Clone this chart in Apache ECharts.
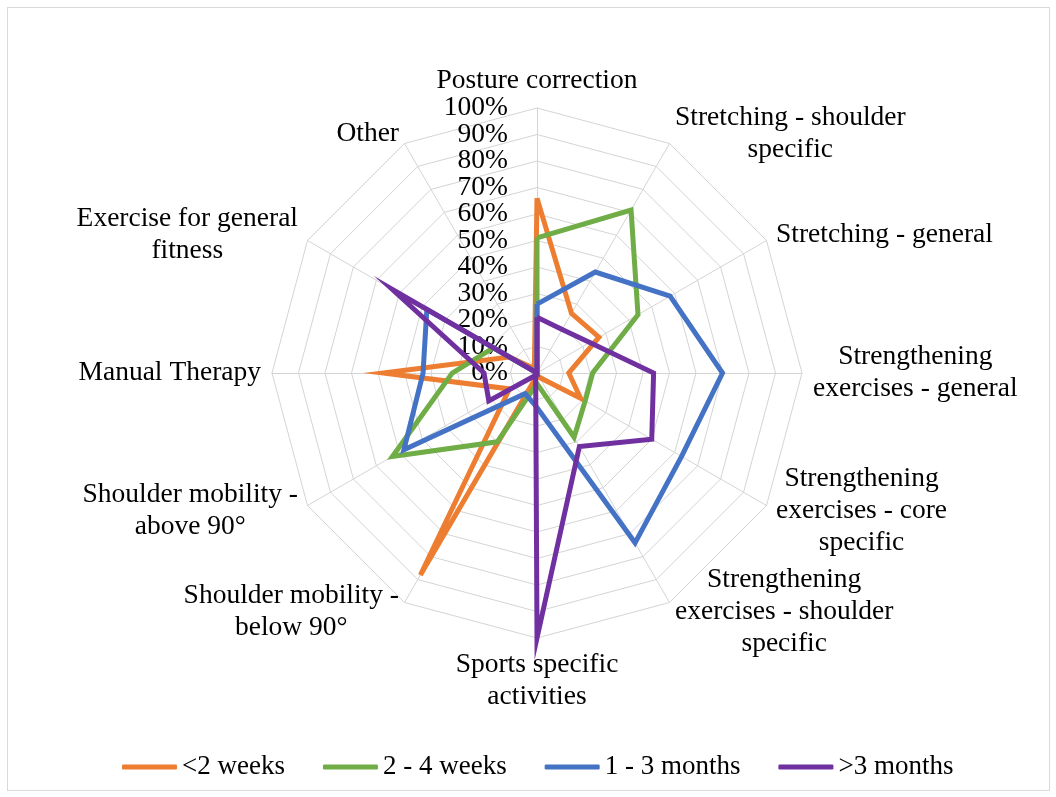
<!DOCTYPE html>
<html>
<head>
<meta charset="utf-8">
<script src="https://cdn.jsdelivr.net/npm/echarts@6/dist/echarts.min.js"></script>
<style>
  html, body { margin: 0; padding: 0; background: #ffffff; }
  #chart { position: absolute; left: 0; top: 0; width: 1056px; height: 797px; }
  #frame { position: absolute; left: 7px; top: 7px; width: 1041px; height: 782px; border: 1px solid #d9d9d9; pointer-events: none; }
</style>
</head>
<body>
<div id="chart"></div>
<div id="frame"></div>
<script>
// Categories in clockwise order starting from the top
const categories = [
  'Posture correction',
  'Stretching - shoulder\nspecific',
  'Stretching - general',
  'Strengthening\nexercises - general',
  'Strengthening\nexercises - core\nspecific',
  'Strengthening\nexercises - shoulder\nspecific',
  'Sports specific\nactivities',
  'Shoulder mobility -\nbelow 90°',
  'Shoulder mobility -\nabove 90°',
  'Manual Therapy',
  'Exercise for general\nfitness',
  'Other'
];
const seriesNames = ['<2 weeks', '2 - 4 weeks', '1 - 3 months', '>3 months'];
const lessThan2Weeks = [66, 26, 27, 12, 19, 2, 1, 88, 12, 58, 12, 2];
const twoToFourWeeks = [51, 71, 44, 21, 21, 28, 4, 30, 63, 32, 19, 0];
const oneToThreeMonths = [26, 44, 58, 70, 63, 74, 13, 9, 58, 43, 48, 0];
const moreThan3Months = [21, 19, 23, 44, 50, 32, 100, 1, 21, 20, 63, 0];
const tickLabels = ['0%', '10%', '20%', '30%', '40%', '50%', '60%', '70%', '80%', '90%', '100%'];

const colors = ['#ED7D31', '#70AD47', '#4472C4', '#7030A0'];
const FONT = "'Liberation Serif', 'Times New Roman', serif";
const FS = 27.5;
const CENTER = [537, 373];
const RADIUS = 265;

// ECharts radar places indicators counter-clockwise; reorder to get clockwise layout
const order = [0];
for (let i = categories.length - 1; i >= 1; i--) order.push(i);
const reorder = arr => order.map(i => arr[i]);

const labelBase = {
  show: true,
  hideOverlap: false,
  formatter: v => tickLabels[Math.round(v / 10)],
  fontFamily: FONT, fontSize: FS, color: '#000', margin: 29
};

// main radar: inner tick labels 10%..90% (min/max labels shown by the overlay radar)
const indicators = order.map((ci, k) => {
  const ind = { name: categories[ci], min: 0, max: 100, nameMoveOverlap: false };
  if (k === 0) ind.axisLabel = Object.assign({ showMinLabel: false, showMaxLabel: false }, labelBase);
  return ind;
});
// overlay radar: only the 0% and 100% labels
const indicatorsEnds = order.map((ci, k) => {
  const ind = { name: '', min: 0, max: 100 };
  if (k === 0) ind.axisLabel = Object.assign({ showMinLabel: true, showMaxLabel: true }, labelBase);
  return ind;
});

const allData = [lessThan2Weeks, twoToFourWeeks, oneToThreeMonths, moreThan3Months];

const chart = echarts.init(document.getElementById('chart'), null, { renderer: 'canvas' });
chart.setOption({
  animation: false,
  color: colors,
  legend: {
    left: 117, top: 746,
    itemWidth: 55, itemHeight: 5, itemGap: 38,
    icon: 'roundRect',
    textStyle: { fontFamily: FONT, fontSize: 27, color: '#000', lineHeight: 32 },
    data: seriesNames
  },
  radar: [{
    center: CENTER,
    radius: RADIUS,
    startAngle: 90,
    shape: 'polygon',
    splitNumber: 10,
    nameGap: 11,
    axisName: {
      color: '#000', fontFamily: FONT, fontSize: FS, lineHeight: 32,
      formatter: name => name.split('\n').map(l => '{c|' + l + '}').join('\n'),
      rich: { c: { align: 'center', color: '#000', fontFamily: FONT, fontSize: FS, lineHeight: 32 } }
    },
    axisLine: { lineStyle: { color: '#d4d4d4', width: 1 } },
    splitLine: { lineStyle: { color: '#d4d4d4', width: 1 } },
    splitArea: { show: false },
    axisTick: { show: false },
    axisLabel: { show: false },
    indicator: indicators
  }, {
    center: CENTER,
    radius: RADIUS,
    startAngle: 90,
    shape: 'polygon',
    splitNumber: 1,
    axisName: { show: false },
    axisLine: { show: false },
    splitLine: { show: false },
    splitArea: { show: false },
    axisTick: { show: false },
    axisLabel: { show: false },
    indicator: indicatorsEnds
  }],
  series: allData.map((d, i) => ({
    type: 'radar',
    radarIndex: 0,
    name: seriesNames[i],
    symbol: 'none',
    z: 2 + i,
    lineStyle: { width: 5, color: colors[i], join: 'miter' },
    itemStyle: { color: colors[i] },
    data: [{ value: reorder(d), name: seriesNames[i] }]
  }))
});
</script>
</body>
</html>
